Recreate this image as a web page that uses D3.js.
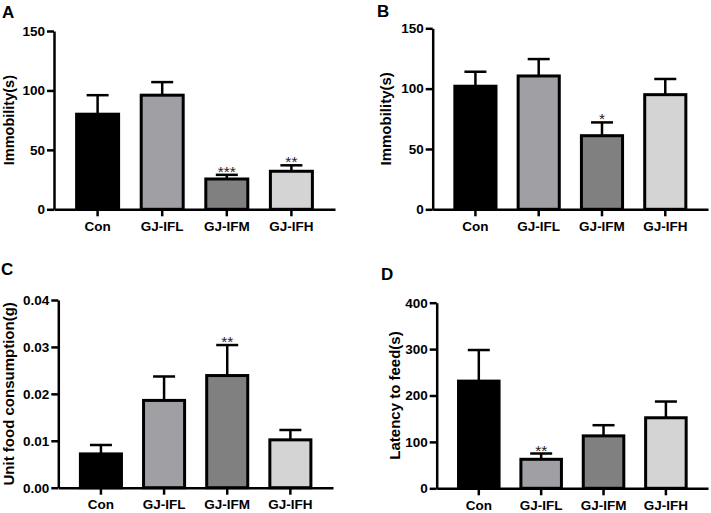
<!DOCTYPE html>
<html>
<head>
<meta charset="utf-8">
<script src="https://cdn.jsdelivr.net/npm/d3@7"></script>
<style>
  html, body { margin: 0; padding: 0; background: #fff; }
  svg { display: block; font-family: "Liberation Sans", Arial, sans-serif; }
</style>
</head>
<body>
<svg id="chart" width="711" height="513"></svg>
<script>
// ---- data ----
const groups = ["Con", "GJ-IFL", "GJ-IFM", "GJ-IFH"];
const fills = ["#000000", "#a0a0a4", "#808080", "#d4d4d4"];

const immobilityA = [80, 96, 25.5, 32];
const immobilityA_sem = [16, 11, 3.5, 5];
const starsA = ["", "", "***", "**"];
const ticksA = [0, 50, 100, 150];

const immobilityB = [102, 110.5, 61, 95];
const immobilityB_sem = [12, 14, 11, 13];
const starsB = ["", "", "*", ""];
const ticksB = [0, 50, 100, 150];

const foodC = [0.0072, 0.0186, 0.0239, 0.0102];
const foodC_sem = [0.0019, 0.0051, 0.0065, 0.0021];
const starsC = ["", "", "**", ""];
const ticksC = [0, 0.01, 0.02, 0.03, 0.04];

const latencyD = [231, 62.5, 113, 152];
const latencyD_sem = [67, 12.5, 23, 35];
const starsD = ["", "**", "", ""];
const ticksD = [0, 100, 200, 300, 400];

const svg = d3.select("#chart");
svg.append("rect").attr("width", 711).attr("height", 513).attr("fill", "#fff");

function panel(cfg) {
  const g = svg.append("g");
  const x = d3.scaleBand().domain(groups).range([cfg.left, cfg.right])
    .paddingInner(0.35).paddingOuter(0.35);
  const y = d3.scaleLinear().domain([0, cfg.ticks[cfg.ticks.length - 1]])
    .range([cfg.bottom, cfg.top]);

  // error bars (upper only)
  const eb = g.append("g").attr("stroke", "#000").attr("stroke-width", 2.5);
  groups.forEach((k, i) => {
    const cx = x(k) + x.bandwidth() / 2;
    const top = cfg.values[i] + cfg.sem[i];
    eb.append("line").attr("x1", cx).attr("x2", cx)
      .attr("y1", y(cfg.values[i])).attr("y2", y(top));
    eb.append("line").attr("x1", cx - 11).attr("x2", cx + 11)
      .attr("y1", y(top)).attr("y2", y(top));
  });

  // bars
  g.append("g").selectAll("rect").data(groups).join("rect")
    .attr("x", d => x(d))
    .attr("width", x.bandwidth())
    .attr("y", (d, i) => y(cfg.values[i]))
    .attr("height", (d, i) => y(0) - y(cfg.values[i]))
    .attr("fill", (d, i) => fills[i])
    .attr("stroke", "#000").attr("stroke-width", 3);

  // significance stars
  g.append("g").selectAll("text").data(groups).join("text")
    .attr("x", d => x(d) + x.bandwidth() / 2)
    .attr("y", (d, i) => y(cfg.values[i] + cfg.sem[i]) + 2)
    .attr("text-anchor", "middle")
    .attr("font-size", 15.5)
    .attr("fill", "#222")
    .text((d, i) => cfg.stars[i]);

  // y axis
  const ya = g.append("g").attr("transform", `translate(${cfg.left},0)`)
    .call(d3.axisLeft(y).tickValues(cfg.ticks).tickFormat(cfg.fmt)
      .tickSize(7).tickSizeOuter(0).tickPadding(2));
  // x axis
  const xa = g.append("g").attr("transform", `translate(0,${cfg.bottom})`)
    .call(d3.axisBottom(x).tickSize(7).tickSizeOuter(0).tickPadding(5));
  [ya, xa].forEach(a => {
    a.select(".domain").attr("stroke", "#000").attr("stroke-width", 2.5);
    a.selectAll(".tick line").attr("stroke", "#000").attr("stroke-width", 2.5);
    a.selectAll("text").attr("fill", "#000").attr("font-size", 13.5)
      .attr("font-weight", "bold")
      .attr("font-family", '"Liberation Sans", Arial, sans-serif');
  });

  // y title
  g.append("text")
    .attr("transform", `translate(${cfg.titleX},${(cfg.top + cfg.bottom) / 2}) rotate(-90)`)
    .attr("text-anchor", "middle")
    .attr("font-size", cfg.titleSize)
    .attr("font-weight", "bold")
    .text(cfg.title);

  // panel letter
  g.append("text").attr("x", cfg.letterX).attr("y", cfg.letterY)
    .attr("font-size", 17).attr("font-weight", "bold").text(cfg.letter);
}

panel({ letter: "A", letterX: 2, letterY: 18, left: 54, right: 335, top: 31, bottom: 209.3,
  ticks: ticksA, fmt: d3.format("d"), values: immobilityA, sem: immobilityA_sem, stars: starsA,
  title: "Immobility(s)", titleX: 14, titleSize: 14.5 });
panel({ letter: "B", letterX: 377, letterY: 17, left: 432.7, right: 708, top: 28.3, bottom: 209.3,
  ticks: ticksB, fmt: d3.format("d"), values: immobilityB, sem: immobilityB_sem, stars: starsB,
  title: "Immobility(s)", titleX: 391, titleSize: 15 });
panel({ letter: "C", letterX: 1, letterY: 275, left: 58.3, right: 333, top: 300, bottom: 487.7,
  ticks: ticksC, fmt: d3.format(".2f"), values: foodC, sem: foodC_sem, stars: starsC,
  title: "Unit food consumption(g)", titleX: 14, titleSize: 15 });
panel({ letter: "D", letterX: 381, letterY: 280, left: 436.7, right: 708, top: 302.7, bottom: 488.3,
  ticks: ticksD, fmt: d3.format("d"), values: latencyD, sem: latencyD_sem, stars: starsD,
  title: "Latency to feed(s)", titleX: 400, titleSize: 15 });
</script>
</body>
</html>
